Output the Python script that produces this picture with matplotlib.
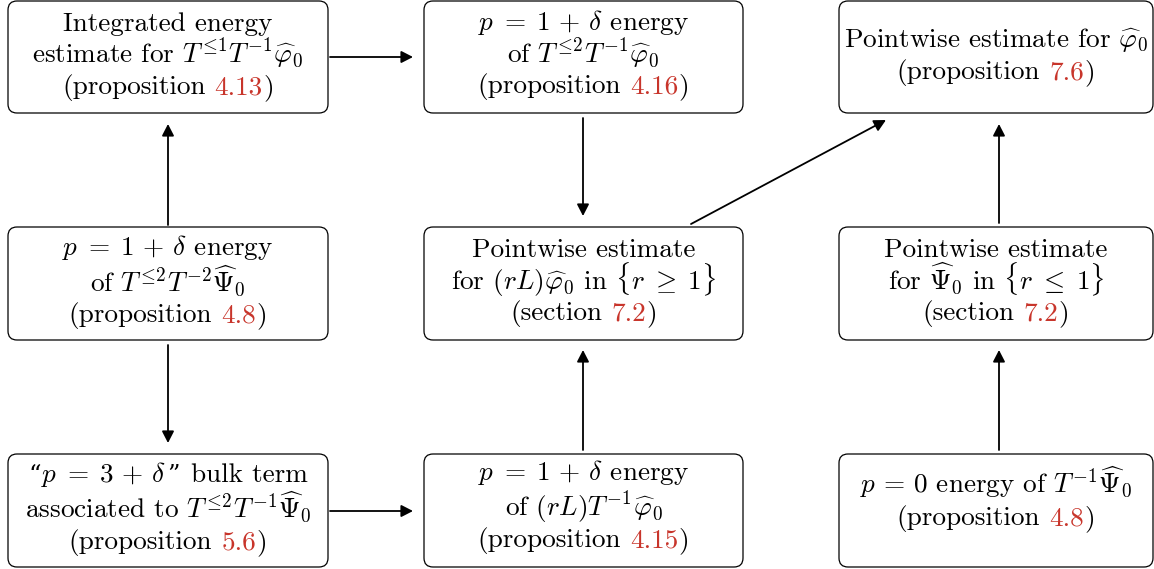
import matplotlib
matplotlib.use('Agg')
import matplotlib.pyplot as plt
from matplotlib.patches import FancyBboxPatch, FancyArrowPatch

plt.rcParams['mathtext.fontset'] = 'cm'
plt.rcParams['font.family'] = ['cmr10', 'DejaVu Serif']
plt.rcParams['axes.unicode_minus'] = False
plt.rcParams['axes.formatter.use_mathtext'] = True

W, H = 1154, 569
RED = '#c8352b'
FS = 19.6

# ---- content: each line is a list of (text, kind) segments
#   kind: 'n' normal black, 'r' red reference, 'q' quote mark
box_names = ['int_energy', 'p1_T2T1', 'pw_phi', 'p1_T2T2', 'pw_rL', 'pw_Psi', 'bulk', 'p1_rL', 'p0']
box_texts = [
    [[("Integrated energy", 'n')],
     [(r"estimate for $T^{\!\leq\!1}T^{-1}\widehat{\varphi}_0$", 'n')],
     [("(proposition", 'n'), ("4.13", 'r'), (")", 'n')]],
    [[(r"$p\;=\;1\,+\,\delta$ energy", 'n')],
     [(r"of $T^{\!\leq\!2}T^{-1}\widehat{\varphi}_0$", 'n')],
     [("(proposition", 'n'), ("4.16", 'r'), (")", 'n')]],
    [[(r"Pointwise estimate for $\widehat{\varphi}_0$", 'n')],
     [("(proposition", 'n'), ("7.6", 'r'), (")", 'n')]],
    [[(r"$p\;=\;1\,+\,\delta$ energy", 'n')],
     [(r"of $T^{\!\leq\!2}T^{-2}\widehat{\Psi}_0$", 'n')],
     [("(proposition", 'n'), ("4.8", 'r'), (")", 'n')]],
    [[("Pointwise estimate", 'n')],
     [(r"for $(rL)\widehat{\varphi}_0$ in $\{r\;\geq\;1\}$", 'n')],
     [("(section", 'n'), ("7.2", 'r'), (")", 'n')]],
    [[("Pointwise estimate", 'n')],
     [(r"for $\widehat{\Psi}_0$ in $\{r\;\leq\;1\}$", 'n')],
     [("(section", 'n'), ("7.2", 'r'), (")", 'n')]],
    [[("\u201c", 'q'), (r"$p\;=\;3\,+\,\delta$", 'n'), ("\u201d", 'q'), ("bulk term", 'n')],
     [(r"associated to $T^{\!\leq\!2}T^{-1}\widehat{\Psi}_0$", 'n')],
     [("(proposition", 'n'), ("5.6", 'r'), (")", 'n')]],
    [[(r"$p\;=\;1\,+\,\delta$ energy", 'n')],
     [(r"of $(rL)T^{-1}\widehat{\varphi}_0$", 'n')],
     [("(proposition", 'n'), ("4.15", 'r'), (")", 'n')]],
    [[(r"$p\,=\,0$ energy of $T^{-1}\widehat{\Psi}_0$", 'n')],
     [("(proposition", 'n'), ("4.8", 'r'), (")", 'n')]],
]
# gaps (in em) placed before each segment of multi-segment lines
seg_gaps = {
    'int_energy': [[0], [0], [0, 0.333, 0.02]], 'p1_T2T1': [[0], [0], [0, 0.333, 0.02]],
    'pw_phi': [[0], [0, 0.333, 0.02]], 'p1_T2T2': [[0], [0], [0, 0.333, 0.02]],
    'pw_rL': [[0], [0], [0, 0.333, 0.02]], 'pw_Psi': [[0], [0], [0, 0.333, 0.02]],
    'bulk': [[0, 0.02, 0.02, 0.42], [0], [0, 0.333, 0.02]],
    'p1_rL': [[0], [0], [0, 0.333, 0.02]], 'p0': [[0], [0, 0.333, 0.02]],
}
# arrows: (from box, to box)
edges = [('p1_T2T2', 'int_energy'), ('p1_T2T2', 'bulk'), ('int_energy', 'p1_T2T1'),
         ('bulk', 'p1_rL'), ('p1_T2T1', 'pw_rL'), ('p1_rL', 'pw_rL'), ('pw_rL', 'pw_phi'),
         ('pw_Psi', 'pw_phi'), ('p0', 'pw_Psi')]

# ---- layout (pixels)
col_x = [(8, 328), (424, 743), (839, 1153)]
row_y = [(1, 113), (227, 340), (454, 567)]
box_pos = {n: (i % 3, i // 3) for i, n in enumerate(box_names)}
baselines = {
    'int_energy': [31, 63, 94], 'p1_T2T1': [30, 63, 93], 'pw_phi': [47, 79],
    'p1_T2T2': [255, 291, 322], 'pw_rL': [257, 290, 320], 'pw_Psi': [257, 290, 320],
    'bulk': [482, 517, 549], 'p1_rL': [480, 516, 547], 'p0': [493, 525],
}
arrow_pts = {
    ('p1_T2T2', 'int_energy'): ((168, 225), (168, 124)),
    ('p1_T2T2', 'bulk'): ((168, 345), (168, 443)),
    ('int_energy', 'p1_T2T1'): ((330, 57), (413, 57)),
    ('bulk', 'p1_rL'): ((330, 511), (413, 511)),
    ('p1_T2T1', 'pw_rL'): ((583, 118), (583, 216)),
    ('p1_rL', 'pw_rL'): ((583, 450), (583, 350)),
    ('pw_rL', 'pw_phi'): ((691, 224), (886, 120)),
    ('pw_Psi', 'pw_phi'): ((999, 223), (999, 124)),
    ('p0', 'pw_Psi'): ((999, 450), (999, 350)),
}

fig = plt.figure(figsize=(W / 100, H / 100), dpi=100)
ax = fig.add_axes([0, 0, 1, 1])
ax.set_xlim(0, W)
ax.set_ylim(H, 0)
ax.axis('off')
renderer = fig.canvas.get_renderer()
EM = FS * 100 / 72.0


def seg_props(kind):
    if kind == 'r':
        return dict(color=RED)
    if kind == 'q':
        return dict(family='DejaVu Serif', fontsize=FS * 0.9)
    return {}


def width(s, kind='n'):
    kw = dict(fontsize=FS)
    kw.update(seg_props(kind))
    t = ax.text(0, 0, s, **kw)
    w = t.get_window_extent(renderer).width
    t.remove()
    return w


for name, lines in zip(box_names, box_texts):
    c, r = box_pos[name]
    x0, x1 = col_x[c]
    y0, y1 = row_y[r]
    ax.add_patch(FancyBboxPatch((x0, y0), x1 - x0, y1 - y0,
                                boxstyle='round,pad=0,rounding_size=9',
                                fc='white', ec='black', lw=0.9))
    cx = (x0 + x1) / 2
    for line, yb, gaps in zip(lines, baselines[name], seg_gaps[name]):
        widths = [width(s, k) for s, k in line]
        total = sum(widths) + sum(g * EM for g in gaps)
        x = cx - total / 2
        for (s, k), w, g in zip(line, widths, gaps):
            x += g * EM
            kw = dict(fontsize=FS)
            kw.update(seg_props(k))
            ax.text(x, yb, s, ha='left', va='baseline', **kw)
            x += w

for e in edges:
    (xa, ya), (xb, yb) = arrow_pts[e]
    ax.add_patch(FancyArrowPatch((xa, ya), (xb, yb),
                                 arrowstyle='-|>,head_length=0.7,head_width=0.36',
                                 mutation_scale=10, lw=1.3, color='black',
                                 shrinkA=0, shrinkB=0))

fig.savefig('out.png', dpi=100)
